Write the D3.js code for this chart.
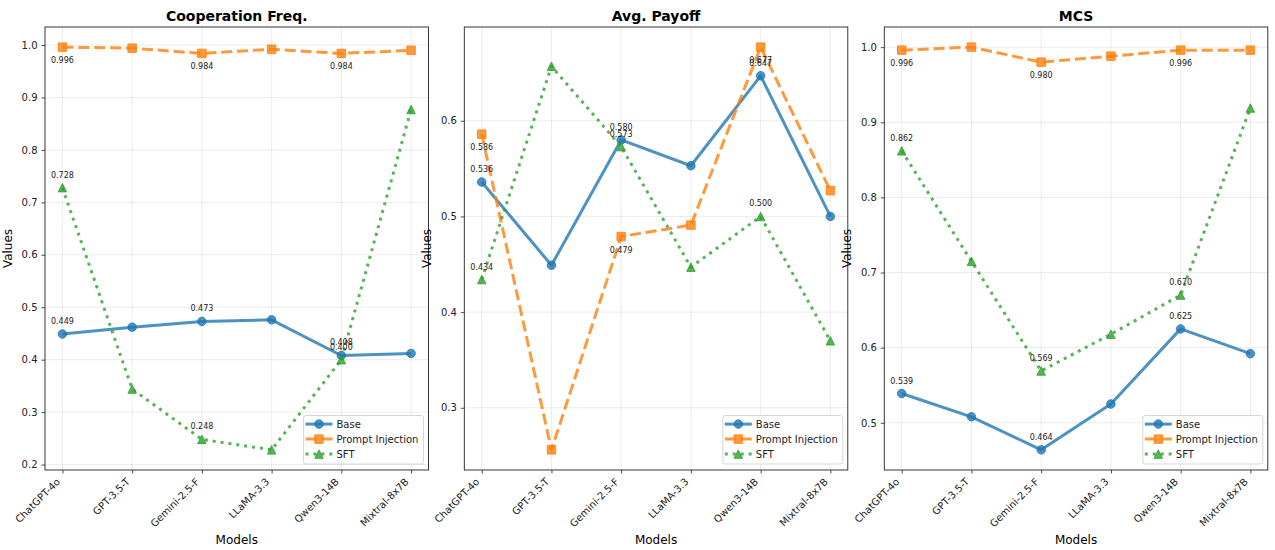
<!DOCTYPE html>
<html>
<head>
<meta charset="utf-8">
<script src="https://cdn.jsdelivr.net/npm/d3@7"></script>
<style>
  body { margin: 0; background: #fff; }
  text { font-family: "DejaVu Sans", sans-serif; }
</style>
</head>
<body>
<svg id="chart" width="1275" height="550"></svg>
<script>
// ---- data ----
const models = ["ChatGPT-4o", "GPT-3.5-T", "Gemini-2.5-F", "LLaMA-3.3", "Qwen3-14B", "Mixtral-8x7B"];
const seriesNames = ["Base", "Prompt Injection", "SFT"];
const metricTitles = ["Cooperation Freq.", "Avg. Payoff", "MCS"];

const coopBase   = [0.449, 0.462, 0.473, 0.476, 0.408, 0.412];
const coopPrompt = [0.996, 0.994, 0.984, 0.992, 0.984, 0.990];
const coopSft    = [0.728, 0.344, 0.248, 0.228, 0.400, 0.877];

const payoffBase   = [0.536, 0.449, 0.580, 0.553, 0.647, 0.500];
const payoffPrompt = [0.586, 0.256, 0.479, 0.491, 0.677, 0.527];
const payoffSft    = [0.434, 0.657, 0.573, 0.447, 0.500, 0.370];

const mcsBase   = [0.539, 0.508, 0.464, 0.525, 0.625, 0.592];
const mcsPrompt = [0.996, 1.000, 0.980, 0.988, 0.996, 0.996];
const mcsSft    = [0.862, 0.715, 0.569, 0.618, 0.670, 0.919];

const coopTicks   = [0.2, 0.3, 0.4, 0.5, 0.6, 0.7, 0.8, 0.9, 1.0];
const payoffTicks = [0.3, 0.4, 0.5, 0.6];
const mcsTicks    = [0.5, 0.6, 0.7, 0.8, 0.9, 1.0];

const panels = [
  { title: metricTitles[0], series: [coopBase, coopPrompt, coopSft], ticks: coopTicks },
  { title: metricTitles[1], series: [payoffBase, payoffPrompt, payoffSft], ticks: payoffTicks },
  { title: metricTitles[2], series: [mcsBase, mcsPrompt, mcsSft], ticks: mcsTicks }
];

// ---- styling ----
const colors = ["#1f77b4", "#ff7f0e", "#2ca02c"];
const lw = 3;
const dashes = [null, `${3.7 * lw},${1.6 * lw}`, `${1 * lw},${1.65 * lw}`];
const markers = [d3.symbolCircle, d3.symbolSquare, "triangle"];
const labelSide = [-1, 1, -1];   // -1 => value label above the point, 1 => below
const ms = 8.5;

const axLefts = [45, 464.3, 884.3];
const axWidth = 383.5;
const axTop = 27, axBottom = 470;

const svg = d3.select("#chart");

function markerPath(kind) {
  if (kind === "triangle") {
    const h = ms / 2;
    return `M0,${-h}L${-h},${h}L${h},${h}Z`;
  }
  if (kind === d3.symbolSquare) {
    const h = ms / 2;
    return `M${-h},${-h}H${h}V${h}H${-h}Z`;
  }
  return d3.symbol().type(kind).size(Math.PI * (ms / 2) * (ms / 2))();
}

panels.forEach((p, pi) => {
  const left = axLefts[pi], right = left + axWidth;
  const g = svg.append("g");

  const x = d3.scalePoint().domain(models).range([left, right]).padding(0.25);
  const all = p.series.flat();
  const lo = d3.min(all), hi = d3.max(all), pad = (hi - lo) * 0.05;
  const y = d3.scaleLinear().domain([lo - pad, hi + pad]).range([axBottom, axTop]);

  // grid
  const grid = g.append("g").attr("stroke", "#b0b0b0").attr("stroke-opacity", 0.3).attr("stroke-width", 0.8);
  models.forEach(m => grid.append("line").attr("x1", x(m)).attr("x2", x(m)).attr("y1", axTop).attr("y2", axBottom));
  p.ticks.forEach(t => grid.append("line").attr("x1", left).attr("x2", right).attr("y1", y(t)).attr("y2", y(t)));

  // axes
  const yAxis = d3.axisLeft(y).tickValues(p.ticks).tickFormat(d3.format(".1f")).tickSize(3.5).tickPadding(4);
  const ya = g.append("g").attr("transform", `translate(${left},0)`).call(yAxis);
  ya.select(".domain").remove();
  ya.selectAll("line").attr("stroke", "#222").attr("stroke-width", 0.8);
  ya.selectAll("text").attr("font-size", 10).attr("fill", "#222").attr("font-family", "DejaVu Sans");

  const xAxis = d3.axisBottom(x).tickSize(3.5).tickFormat(() => "");
  const xa = g.append("g").attr("transform", `translate(0,${axBottom})`).call(xAxis);
  xa.select(".domain").remove();
  xa.selectAll("line").attr("stroke", "#222").attr("stroke-width", 0.8);

  // rotated category labels
  g.append("g").selectAll("text").data(models).join("text")
    .attr("transform", d => `translate(${x(d) - 1.7},${axBottom + 12.3}) rotate(-45)`)
    .attr("text-anchor", "end")
    .attr("font-size", 10)
    .attr("fill", "#222")
    .text(d => d);

  // series lines, markers
  p.series.forEach((vals, si) => {
    const line = d3.line().x((d, i) => x(models[i])).y(d => y(d));
    g.append("path").datum(vals)
      .attr("d", line)
      .attr("fill", "none")
      .attr("stroke", colors[si])
      .attr("stroke-opacity", 0.8)
      .attr("stroke-width", lw)
      .attr("stroke-linejoin", "round")
      .attr("stroke-dasharray", dashes[si]);
    g.append("g").selectAll("path").data(vals).join("path")
      .attr("transform", (d, i) => `translate(${x(models[i])},${y(d)})`)
      .attr("d", markerPath(markers[si]))
      .attr("fill", colors[si])
      .attr("fill-opacity", 0.8)
      .attr("stroke", colors[si])
      .attr("stroke-opacity", 0.8)
      .attr("stroke-width", 1);
  });

  // value labels on every other model
  p.series.forEach((vals, si) => {
    g.append("g").selectAll("text").data(vals.map((v, i) => ({ v, i })).filter(d => d.i % 2 === 0)).join("text")
      .attr("x", d => x(models[d.i]))
      .attr("y", d => y(d.v) + (labelSide[si] < 0 ? -10 : 16))
      .attr("text-anchor", "middle")
      .attr("font-size", 8)
      .attr("fill", "#222")
      .text(d => d3.format(".3f")(d.v));
  });

  // frame
  g.append("rect").attr("x", left).attr("y", axTop).attr("width", axWidth).attr("height", axBottom - axTop)
    .attr("fill", "none").attr("stroke", "#222").attr("stroke-width", 0.9);

  // titles
  g.append("text").attr("x", (left + right) / 2).attr("y", 20.5).attr("text-anchor", "middle")
    .attr("font-size", 14).attr("font-weight", "bold").attr("fill", "#000").text(p.title);
  g.append("text").attr("x", (left + right) / 2).attr("y", 544).attr("text-anchor", "middle")
    .attr("font-size", 12).attr("fill", "#000").text("Models");
  g.append("text")
    .attr("transform", `translate(${left - 37},${(axTop + axBottom) / 2}) rotate(-90)`)
    .attr("text-anchor", "middle").attr("dominant-baseline", "central")
    .attr("font-size", 12).attr("fill", "#000").text("Values");

  // legend
  const lgW = 120, lgH = 48.5;
  const lgX = right - 5 - lgW, lgY = axBottom - 6 - lgH;
  const lg = g.append("g").attr("transform", `translate(${lgX},${lgY})`);
  lg.append("rect").attr("width", lgW).attr("height", lgH).attr("rx", 2.5)
    .attr("fill", "#fff").attr("fill-opacity", 0.8).attr("stroke", "#cccccc").attr("stroke-width", 0.8);
  seriesNames.forEach((name, si) => {
    const cy = 8.6 + si * 15;
    lg.append("line").attr("x1", 2).attr("x2", 29).attr("y1", cy).attr("y2", cy)
      .attr("stroke", colors[si]).attr("stroke-opacity", 0.8).attr("stroke-width", lw)
      .attr("stroke-dasharray", dashes[si]);
    lg.append("path").attr("transform", `translate(15.5,${cy})`).attr("d", markerPath(markers[si]))
      .attr("fill", colors[si]).attr("fill-opacity", 0.8)
      .attr("stroke", colors[si]).attr("stroke-opacity", 0.8).attr("stroke-width", 1);
    lg.append("text").attr("x", 33).attr("y", cy + 3.6).attr("font-size", 10).attr("fill", "#222").text(name);
  });
});
</script>
</body>
</html>
